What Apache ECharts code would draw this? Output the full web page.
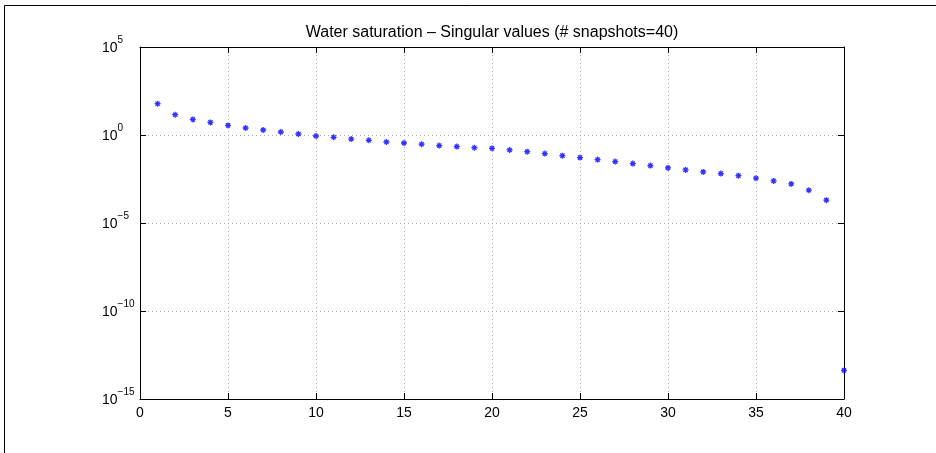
<!DOCTYPE html>
<html>
<head>
<meta charset="utf-8">
<script src="https://cdn.jsdelivr.net/npm/echarts@6/dist/echarts.min.js"></script>
<style>
  html, body { margin: 0; padding: 0; background: #fff; }
  #chart { width: 936px; height: 453px; }
</style>
</head>
<body>
<div id="chart"></div>
<script>
// Mode index (1..40)
const modeIndex = [1, 2, 3, 4, 5, 6, 7, 8, 9, 10, 11, 12, 13, 14, 15, 16, 17, 18, 19, 20,
                   21, 22, 23, 24, 25, 26, 27, 28, 29, 30, 31, 32, 33, 34, 35, 36, 37, 38, 39, 40];
// Singular values of the water-saturation snapshot matrix
const singularValues = [
  60, 14.2, 7.7, 5.2, 3.5, 2.5, 1.92, 1.48, 1.14, 0.88,
  0.74, 0.59, 0.50, 0.40, 0.35, 0.30, 0.25, 0.22, 0.19, 0.175,
  0.141, 0.1135, 0.0875, 0.0673, 0.0519, 0.040, 0.0308, 0.0237, 0.0182, 0.0135,
  0.0104, 0.0080, 0.0064, 0.0049, 0.0035, 0.00247, 0.00167, 0.00073, 0.000198, 4.2e-14
];
const xTicks = [0, 5, 10, 15, 20, 25, 30, 35, 40];
const yExponents = [-15, -10, -5, 0, 5];
const titleText = 'Water saturation \u2013 Singular values (# snapshots=40)';

const FONT = '"Liberation Sans", Arial, Helvetica, sans-serif';
const chart = echarts.init(document.getElementById('chart'), null, { renderer: 'canvas' });

const points = modeIndex.map((k, i) => [k, singularValues[i]]);
const asterisk = 'path://M0,5L10,5M5,0L5,10M1.5,1.5L8.5,8.5M1.5,8.5L8.5,1.5';

const gridLine = { show: true, lineStyle: { color: '#a8a8a8', width: 1, type: [1, 3] } };
const tick = { show: true, inside: true, length: 6, lineStyle: { color: '#000', width: 1 } };
const axisLine = { show: true, onZero: false, lineStyle: { color: '#000', width: 1 } };

// "10" with a raised exponent, e.g. 10^-15
function powLabel(v) {
  const e = Math.round(Math.log10(v));
  const s = String(e).replace('-', '\u2212');
  return '{b|10}{s|' + s + '}';
}

chart.setOption({
  animation: false,
  backgroundColor: '#fff',
  title: {
    text: titleText,
    left: 487, top: 20, textAlign: 'center',
    textStyle: { fontFamily: FONT, fontSize: 16, fontWeight: 'normal', color: '#000' }
  },
  grid: { left: 140, right: 92, top: 47, bottom: 54, show: false },
  xAxis: [{
    type: 'value', min: xTicks[0], max: xTicks[xTicks.length - 1], interval: 5,
    position: 'bottom',
    axisLine: axisLine, axisTick: tick, splitLine: gridLine,
    axisLabel: { fontFamily: FONT, fontSize: 14, color: '#000', margin: 7 }
  }, {
    type: 'value', min: 0, max: 40, interval: 5, position: 'top',
    axisLine: axisLine, axisTick: tick, splitLine: { show: false },
    axisLabel: { show: false }
  }],
  yAxis: [{
    type: 'log', logBase: 10,
    min: Math.pow(10, yExponents[0]), max: Math.pow(10, yExponents[yExponents.length - 1]),
    interval: 5,
    axisLine: axisLine, axisTick: tick, splitLine: gridLine,
    axisLabel: {
      margin: 38,
      align: 'left',
      formatter: powLabel,
      rich: {
        b: { fontFamily: FONT, fontSize: 14, color: '#000', padding: [2, 0, 0, 0] },
        s: { fontFamily: FONT, fontSize: 10, color: '#000', padding: [0, 0, 14, 0] }
      }
    }
  }, {
    type: 'log', logBase: 10, min: 1e-15, max: 1e5, interval: 5, position: 'right',
    axisLine: axisLine, axisTick: tick, splitLine: { show: false },
    axisLabel: { show: false }
  }],
  series: [{
    type: 'scatter',
    xAxisIndex: 0, yAxisIndex: 0,
    data: points,
    symbol: asterisk,
    symbolSize: 6,
    itemStyle: { color: 'none', borderColor: '#0000ff', borderWidth: 1.3 },
    emphasis: { disabled: true }
  }],
  graphic: [
    { type: 'line', shape: { x1: 4.5, y1: 5.5, x2: 936, y2: 5.5 }, style: { stroke: '#000', lineWidth: 1 } },
    { type: 'line', shape: { x1: 4.5, y1: 5.5, x2: 4.5, y2: 453 }, style: { stroke: '#000', lineWidth: 1 } }
  ]
});
</script>
</body>
</html>
